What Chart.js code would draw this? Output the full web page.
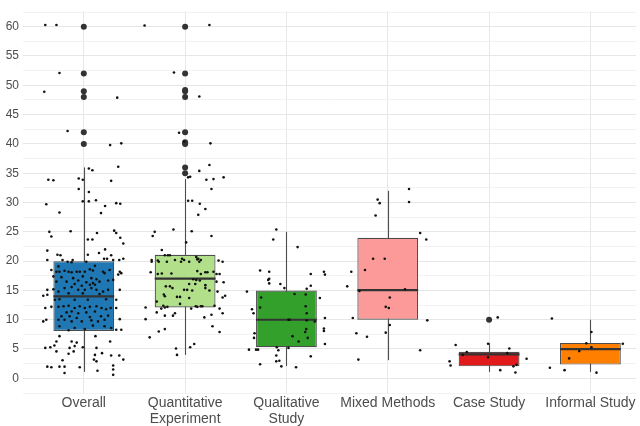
<!DOCTYPE html>
<html>
<head>
<meta charset="utf-8">
<script src="https://cdn.jsdelivr.net/npm/chart.js@4.4.1/dist/chart.umd.min.js"></script>
<style>
  html, body { margin: 0; padding: 0; background: #ffffff; }
  #wrap { width: 640px; height: 426px; }
</style>
</head>
<body>
<div id="wrap"><canvas id="chart" width="640" height="426"></canvas></div>
<script>
// categories and box stats
const categories = [['Overall'], ['Quantitative', 'Experiment'], ['Qualitative', 'Study'], ['Mixed Methods'], ['Case Study'], ['Informal Study']];
const boxColors = ['#1f78b4', '#b2df8a', '#33a02c', '#fb9a99', '#e31a1c', '#ff7f00'];

const whiskerLow  = [1.1, 4.0, 2.1, 3.1, 1.1, 1.1];
const q1          = [8.1, 12.1, 5.3, 10.0, 2.05, 2.35];
const median      = [14.0, 17.0, 10.0, 15.05, 4.1, 5.0];
const q3          = [20.0, 21.1, 15.0, 24.0, 4.55, 6.05];
const whiskerHigh = [36.0, 34.0, 25.0, 32.0, 6.0, 10.0];

// outliers per category (drawn large, on the category centre)
const outliers = [
  [60, 52, 49, 48, 42, 40],
  [60, 52, 49.2, 49, 48, 42, 40.3, 40, 36, 35],
  [], [], [10], []
];

const yTicks = [0, 5, 10, 15, 20, 25, 30, 35, 40, 45, 50, 55, 60];

// jittered observations: [horizontal jitter in category units, value]
const overallPts = [
  [-0.38,60.3],[-0.27,60.3],[-0.24,52.1],[-0.39,48.9],[0.33,47.9],[-0.16,42.2],[0.26,39.8],[0.37,40.1],[0.34,36.1],
  [0.05,35.8],[0.085,35.5],[-0.35,33.9],[-0.30,33.8],[-0.05,34.1],[-0.01,33.9],[0.27,33.7],[-0.05,32.3],[0.05,31.8],
  [-0.37,29.7],[-0.01,30.2],[0.05,30.2],[0.12,30.4],[0.21,29.4],[0.32,29.9],[0.36,29.8],[-0.24,28.3],[0.17,28.2],
  [-0.34,25.0],[-0.32,24.2],[-0.13,25.1],[0.13,24.8],[0.30,25.2],[0.32,24.8],[0.36,24.0],[0.39,23.0],[0.04,23.7],
  [0.085,23.7],[-0.36,21.8],[-0.26,21.1],[-0.23,21.0],[0.04,21.1],[0.15,21.4],[0.21,22.0],[0.27,21.0],[-0.36,20.2],
  [-0.21,20.2],[-0.11,20.2],[0.20,20.4],[0.23,20.4],[0.29,20.2],[0.35,20.2],[0.39,20.4],[-0.16,19.9],[-0.12,19.8],
  [0.025,19.9],[-0.32,18.5],[-0.27,18.2],[-0.24,18.2],[-0.19,18.35],[-0.15,18.2],[-0.12,18.1],[-0.07,18.2],[-0.04,18.2],
  [0.01,18.2],[0.06,18.6],[0.09,18.4],[0.19,18.2],[0.205,17.95],[0.255,18.5],[0.355,18.2],[0.37,17.95],[0.11,19.2],
  [-0.25,19.1],[-0.30,17.4],[-0.22,17.27],[-0.105,17.1],[-0.01,17.4],[0.075,17.1],[0.125,16.9],[0.29,16.8],[-0.27,16.5],
  [-0.17,16.5],[-0.055,16.7],[0.025,16.4],[0.09,16.25],[0.155,16.5],[0.24,16.7],[0.34,17.7],[-0.09,16.1],[-0.02,15.8],
  [0.06,15.96],[0.11,15.96],[-0.19,15.4],[-0.12,15.57],[-0.055,15.1],[0.01,15.1],[0.075,15.4],[0.125,15.1],[0.19,14.8],
  [0.24,15.1],[-0.30,15.2],[-0.25,14.8],[-0.15,14.5],[-0.01,14.5],[0.155,14.4],[-0.36,15.1],[-0.40,14.1],[-0.36,14.26],
  [0.355,15.1],[0.32,13.4],[-0.285,13.4],[-0.24,13.5],[-0.09,13.4],[0.04,13.4],[0.22,13.5],[-0.32,12.2],[-0.25,12.2],
  [-0.20,12.3],[-0.15,12.4],[-0.09,12.0],[-0.04,12.3],[0.01,12.0],[0.06,12.2],[0.125,12.3],[0.175,12.0],[0.22,11.8],
  [0.265,12.0],[-0.38,12.0],[0.32,12.0],[-0.17,11.25],[-0.12,11.4],[-0.055,11.1],[0.025,11.25],[0.11,11.4],[-0.22,10.6],
  [-0.14,10.6],[-0.07,10.3],[0.06,10.45],[0.17,10.6],[0.24,10.7],[-0.25,10.0],[-0.19,10.0],[-0.12,9.72],[-0.02,9.72],
  [0.075,9.9],[0.14,9.72],[0.205,10.0],[-0.40,9.72],[-0.37,10.0],[0.355,10.1],[-0.24,8.9],[-0.09,8.6],[0.01,8.4],
  [0.09,9.0],[0.205,8.9],[0.27,8.6],[0.37,8.3],[0.32,8.3],[-0.15,8.2],[-0.24,7.2],[-0.27,6.3],[-0.12,6.3],[-0.07,6.1],
  [0.115,7.2],[0.26,6.3],[-0.29,5.6],[-0.33,5.3],[-0.38,5.2],[-0.14,5.2],[-0.09,5.5],[0.125,5.2],[-0.01,5.3],[-0.27,4.6],
  [-0.15,4.2],[-0.10,4.6],[0.11,4.0],[0.18,4.3],[0.27,3.9],[0.35,3.9],[-0.21,3.1],[0.10,3.2],[0.125,2.9],[0.39,3.2],
  [-0.36,2.0],[-0.32,1.9],[-0.24,2.0],[-0.19,2.0],[-0.04,1.9],[0.29,2.2],[0.135,1.3],[0.29,1.5],[-0.19,0.9],[0.29,0.6]
];
const quantPts = [
  [-0.40,60.2],[0.24,60.3],[-0.11,52.2],[0.14,48.1],[-0.06,41.9],[0.25,40.1],[-0.01,40.4],[0.24,36.4],[0.14,35.4],
  [0.03,34.3],[0.05,34.4],[0.21,33.9],[0.28,34.0],[0.26,32.3],[0.38,34.3],[0.03,30.3],[0.07,30.3],[0.145,29.8],
  [0.20,28.9],[0.13,27.9],[-0.30,25.0],[-0.32,24.3],[-0.115,25.4],[0.065,25.1],[0.26,24.3],[0.01,23.2],[-0.23,21.9],
  [-0.20,21.0],[-0.17,21.0],[-0.15,21.0],[-0.33,20.2],[-0.27,20.1],[-0.03,20.4],[-0.01,20.2],[0.11,20.7],[0.13,20.4],
  [0.155,20.2],[0.33,20.1],[-0.33,19.9],[-0.26,19.9],[-0.18,19.9],[-0.10,20.2],[-0.04,19.9],[0.04,19.9],[0.12,20.3],
  [0.14,19.9],[0.37,19.9],[-0.34,18.1],[-0.27,17.8],[-0.23,17.9],[-0.135,17.9],[0.12,18.3],[0.155,17.8],[0.2,18.1],
  [0.22,18.1],[0.28,18.2],[0.31,17.8],[0.34,17.8],[0.08,16.9],[0.11,16.8],[0.145,16.7],[0.31,16.5],[0.38,16.4],
  [0.04,16.1],[0.10,16.1],[0.2,15.9],[0.2,15.4],[-0.19,15.7],[-0.15,15.7],[-0.125,15.4],[-0.01,15.1],[0.02,15.1],
  [0.07,15.0],[0.24,15.0],[0.32,14.8],[-0.21,14.3],[-0.20,14.0],[-0.08,13.9],[-0.05,13.9],[0.04,13.7],[0.37,13.8],
  [0.395,14.1],[-0.28,13.1],[-0.05,12.7],[-0.215,12.4],[-0.20,12.1],[-0.175,12.2],[0.105,12.3],[0.12,12.2],[0.155,12.3],
  [0.17,12.3],[0.29,12.4],[-0.39,12.1],[-0.235,11.9],[0.06,11.9],[0.34,11.9],[-0.28,11.25],[-0.10,11.1],[-0.20,10.7],
  [-0.12,10.7],[0.26,10.85],[0.37,11.1],[-0.39,10.1],[0.19,10.4],[-0.20,8.4],[-0.26,8.0],[0.27,8.9],[0.34,7.9],
  [-0.35,7.0],[0.09,5.85],[0.05,5.3],[-0.09,5.1],[-0.08,4.0]
];
const qualPts = [
  [-0.10,25.4],[-0.13,23.7],[0.11,22.4],[-0.26,18.4],[-0.17,18.2],[-0.18,16.8],[-0.17,17.0],[-0.17,16.2],[-0.06,16.1],
  [0.24,17.8],[0.37,18.2],[0.38,17.7],[0.24,15.8],[-0.02,15.4],[0.20,15.3],[-0.39,14.8],[0.33,13.7],[-0.25,13.8],
  [0.08,14.4],[0.19,14.3],[-0.26,12.1],[-0.34,11.8],[-0.325,11.1],[0.19,12.3],[0.20,11.1],[0.38,10.3],[0.02,10.0],
  [0.03,10.0],[0.20,9.9],[0.28,9.7],[0.37,8.5],[0.37,8.1],[0.195,8.4],[0.185,7.9],[-0.315,7.7],[-0.32,6.9],[0.06,7.2],
  [0.21,6.9],[0.12,6.3],[0.38,5.85],[-0.37,4.9],[-0.30,4.9],[-0.28,4.9],[-0.095,5.3],[-0.08,4.8],[0.02,5.2],[-0.10,3.9],
  [0.24,3.75],[-0.10,2.9],[-0.07,3.0],[-0.26,2.4],[-0.05,2.05],[0.095,1.9]
];
const mixedPts = [
  [0.21,32.3],[-0.10,30.5],[-0.08,29.9],[0.21,30.1],[-0.12,27.8],[0.32,24.8],[0.38,23.7],[-0.145,20.4],[-0.03,20.4],
  [-0.225,18.5],[-0.36,18.2],[-0.40,15.7],[-0.28,14.9],[0.17,15.2],[0.02,13.8],[-0.02,12.2],[0.01,12.0],[-0.345,10.3],
  [0.39,9.9],[0.02,9.1],[-0.31,7.7],[-0.205,7.1],[-0.02,7.8],[0.32,4.8],[-0.29,3.2]
];
const casePts = [
  [0.085,10.4],[-0.01,5.9],[-0.33,5.7],[0.2,5.1],[-0.22,4.5],[0.18,4.3],[-0.26,4.0],[-0.01,3.6],[0.37,3.35],
  [-0.39,2.9],[-0.38,2.2],[0.27,2.3],[0.24,2.05],[0.11,1.4],[0.26,1.0]
];
const informalPts = [
  [-0.38,10.2],[0.01,7.9],[0.32,5.9],[-0.04,6.0],[0.01,5.3],[-0.11,4.65],[-0.21,3.4],[-0.40,1.8],[-0.255,1.4],[0.06,0.97]
];
const groupPts = [overallPts, quantPts, qualPts, mixedPts, casePts, informalPts];

// build the datasets from the arrays above
const boxData = categories.map((c, i) => ({ x: i, y: [q1[i], q3[i]] }));
const outlierData = [];
outliers.forEach((list, i) => list.forEach(v => outlierData.push({ x: i, y: v })));
const jitterData = [];
groupPts.forEach((pts, i) => pts.forEach(p => jitterData.push({ x: i + p[0], y: p[1] })));

// whiskers behind the boxes, medians on top of them
const boxLines = {
  id: 'boxLines',
  beforeDatasetsDraw(chart) {
    const ctx = chart.ctx, xs = chart.scales.x, ys = chart.scales.y;
    ctx.save();
    ctx.strokeStyle = '#4d4d4d';
    ctx.lineWidth = 1.1;
    categories.forEach((c, i) => {
      const px = Math.round(xs.getPixelForValue(i)) + 0.5;
      ctx.beginPath();
      ctx.moveTo(px, ys.getPixelForValue(whiskerLow[i]));
      ctx.lineTo(px, ys.getPixelForValue(whiskerHigh[i]));
      ctx.stroke();
    });
    ctx.restore();
  },
  afterDatasetDraw(chart, args) {
    if (args.index !== 0) return;
    const ctx = chart.ctx, ys = chart.scales.y;
    const bars = chart.getDatasetMeta(0).data;
    ctx.save();
    ctx.strokeStyle = '#333333';
    ctx.lineWidth = 2.2;
    bars.forEach((bar, i) => {
      const half = bar.width / 2;
      const py = ys.getPixelForValue(median[i]);
      ctx.beginPath();
      ctx.moveTo(bar.x - half, py);
      ctx.lineTo(bar.x + half, py);
      ctx.stroke();
    });
    ctx.restore();
  }
};

const ctx = document.getElementById('chart').getContext('2d');
new Chart(ctx, {
  type: 'bar',
  data: {
    datasets: [
      {
        type: 'bar',
        data: boxData,
        backgroundColor: boxColors,
        borderColor: '#4d4d4d',
        borderWidth: 1.2,
        borderSkipped: false,
        categoryPercentage: 1,
        barPercentage: 0.6,
        order: 3
      },
      {
        type: 'scatter',
        data: outlierData,
        pointRadius: 3,
        pointBackgroundColor: '#333333',
        pointBorderWidth: 0,
        order: 2
      },
      {
        type: 'scatter',
        data: jitterData,
        pointRadius: 1.3,
        pointBackgroundColor: '#111111',
        pointBorderWidth: 0,
        order: 1
      }
    ]
  },
  options: {
    responsive: false,
    animation: false,
    events: [],
    layout: { padding: { top: 0, right: 0, left: 0, bottom: 0 } },
    plugins: { legend: { display: false }, tooltip: { enabled: false } },
    scales: {
      x: {
        type: 'linear',
        min: -0.6,
        max: 5.45,
        offset: false,
        border: { display: false },
        grid: { color: '#e8e8e8', lineWidth: 1, drawTicks: false, offset: false },
        afterBuildTicks: s => { s.ticks = categories.map((c, i) => ({ value: i })); },
        afterFit: s => { s.height = 33; },
        ticks: {
          autoSkip: false,
          maxRotation: 0,
          padding: 3,
          color: '#4d4d4d',
          font: { family: 'Liberation Sans, Arial, sans-serif', size: 14, lineHeight: 1.08 },
          callback: (v, i) => categories[i]
        }
      },
      y: {
        min: -2.5,
        max: 62.65,
        border: { display: false },
        afterFit: s => { s.width = 23; },
        grid: {
          drawTicks: false,
          color: c => (yTicks.includes(c.tick.value) ? '#e6e6e6' : '#efefef'),
          lineWidth: c => (yTicks.includes(c.tick.value) ? 1.1 : 0.8)
        },
        ticks: {
          stepSize: 2.5,
          maxTicksLimit: 40,
          includeBounds: false,
          autoSkip: false,
          padding: 4,
          color: '#4d4d4d',
          font: { family: 'Liberation Sans, Arial, sans-serif', size: 12 },
          callback: v => (yTicks.includes(v) ? v : '')
        }
      }
    }
  },
  plugins: [boxLines]
});
</script>
</body>
</html>
